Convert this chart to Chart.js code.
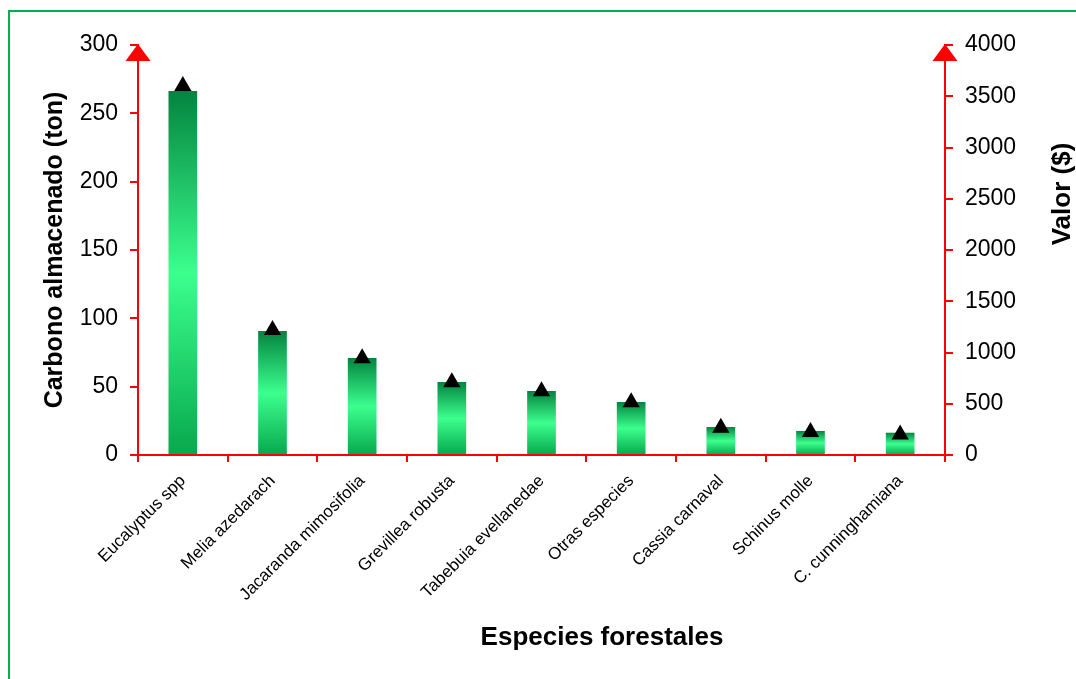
<!DOCTYPE html>
<html>
<head>
<meta charset="utf-8">
<script src="https://cdn.jsdelivr.net/npm/chart.js@4.4.1/dist/chart.umd.min.js"></script>
<style>
    html, body { margin: 0; padding: 0; background: #fff; overflow: hidden; }
    #frame { position: absolute; left: 8px; top: 10px; width: 1100px; height: 700px; border: 2px solid #00b050; }
    #wrap { position: absolute; left: 0; top: 0; width: 1076px; height: 679px; }
</style>
</head>
<body>
<div id="frame"></div>
<div id="wrap"><canvas id="chart" width="1076" height="679"></canvas></div>
<script>
const especies = [
    'Eucalyptus spp', 'Melia azedarach', 'Jacaranda mimosifolia', 'Grevillea robusta',
    'Tabebuia evellanedae', 'Otras especies', 'Cassia carnaval', 'Schinus molle', 'C. cunninghamiana'
];
// carbono almacenado (ton), eje izquierdo
const carbono = [266.3, 90.7, 71.0, 53.4, 46.8, 38.8, 20.5, 17.6, 16.3];
// valor ($), eje derecho
const valor = [3600, 1220, 945, 710, 622, 515, 265, 225, 200];

const leftTicks = { min: 0, max: 300, step: 50 };
const rightTicks = { min: 0, max: 4000, step: 500 };

const RED = '#ff0000';
const FONT = "'Liberation Sans', Arial, sans-serif";

Chart.defaults.font.family = FONT;
Chart.defaults.color = '#000';

function barGradient(c) {
    const chart = c.chart;
    const y = chart.scales.y;
    if (c.type !== 'data' || !y) return '#1ec96a';
    const top = y.getPixelForValue(c.raw);
    const base = y.getPixelForValue(0);
    if (!isFinite(top) || !isFinite(base) || top === base) return '#1ec96a';
    const g = chart.ctx.createLinearGradient(0, top, 0, base);
    g.addColorStop(0, '#03843f');
    g.addColorStop(0.5, '#3cff8e');
    g.addColorStop(1, '#07a84c');
    return g;
}

function rotatedText(ctx, text, x, y, angle) {
    ctx.save();
    ctx.translate(x, y);
    ctx.rotate(angle);
    ctx.fillText(text, 0, 0);
    ctx.restore();
}

// red arrow heads on both value axes, plus the axis titles
const axisExtras = {
    id: 'axisExtras',
    afterDraw(chart) {
        const { ctx, chartArea } = chart;
        ctx.save();
        ctx.fillStyle = RED;
        [chartArea.left, chartArea.right].forEach(x => {
            ctx.beginPath();
            ctx.moveTo(x, chartArea.top - 1);
            ctx.lineTo(x - 12.5, chartArea.top + 16);
            ctx.lineTo(x + 12.5, chartArea.top + 16);
            ctx.closePath();
            ctx.fill();
        });
        ctx.fillStyle = '#000';
        ctx.textAlign = 'center';
        ctx.textBaseline = 'middle';
        ctx.font = 'bold 25px ' + FONT;
        rotatedText(ctx, 'Carbono almacenado (ton)', 55, 250, -Math.PI / 2);
        ctx.font = 'bold 26px ' + FONT;
        rotatedText(ctx, 'Valor ($)', 1063, 194, -Math.PI / 2);
        ctx.fillText('Especies forestales', 602, 638);
        ctx.restore();
    }
};

const chart = new Chart(document.getElementById('chart'), {
    data: {
        labels: especies,
        datasets: [
            {
                type: 'line',
                label: 'Valor ($)',
                data: valor,
                yAxisID: 'y1',
                showLine: false,
                pointStyle: 'triangle',
                pointRadius: 10,
                pointBackgroundColor: '#000',
                pointBorderColor: '#000',
                pointBorderWidth: 0,
                order: 0
            },
            {
                type: 'bar',
                label: 'Carbono almacenado (ton)',
                data: carbono,
                yAxisID: 'y',
                backgroundColor: barGradient,
                barPercentage: 0.32,
                categoryPercentage: 1,
                order: 1
            }
        ]
    },
    options: {
        responsive: false,
        animation: false,
        layout: { padding: { top: 45, left: 0, right: 0, bottom: 0 } },
        plugins: {
            legend: { display: false },
            tooltip: { enabled: false }
        },
        scales: {
            x: {
                offset: true,
                grid: { offset: true, drawOnChartArea: false, color: RED, lineWidth: 2, tickLength: 7 },
                border: { color: RED, width: 2 },
                ticks: { autoSkip: false, minRotation: 45, maxRotation: 45, font: { size: 17 }, padding: 9 },
                afterFit: s => { s.height = 224; }
            },
            y: {
                position: 'left',
                min: leftTicks.min,
                max: leftTicks.max,
                grid: { drawOnChartArea: false, color: RED, lineWidth: 2, tickLength: 8 },
                border: { color: RED, width: 2 },
                ticks: { stepSize: leftTicks.step, font: { size: 23 }, padding: 12 },
                afterFit: s => { s.width = 138; }
            },
            y1: {
                position: 'right',
                min: rightTicks.min,
                max: rightTicks.max,
                grid: { drawOnChartArea: false, color: RED, lineWidth: 2, tickLength: 8 },
                border: { color: RED, width: 2 },
                ticks: { stepSize: rightTicks.step, font: { size: 23 }, padding: 12, callback: v => String(v) },
                afterFit: s => { s.width = 131; }
            }
        }
    },
    plugins: [axisExtras]
});
// second pass so the gradients are built against the laid-out scales
chart.update();
</script>
</body>
</html>
